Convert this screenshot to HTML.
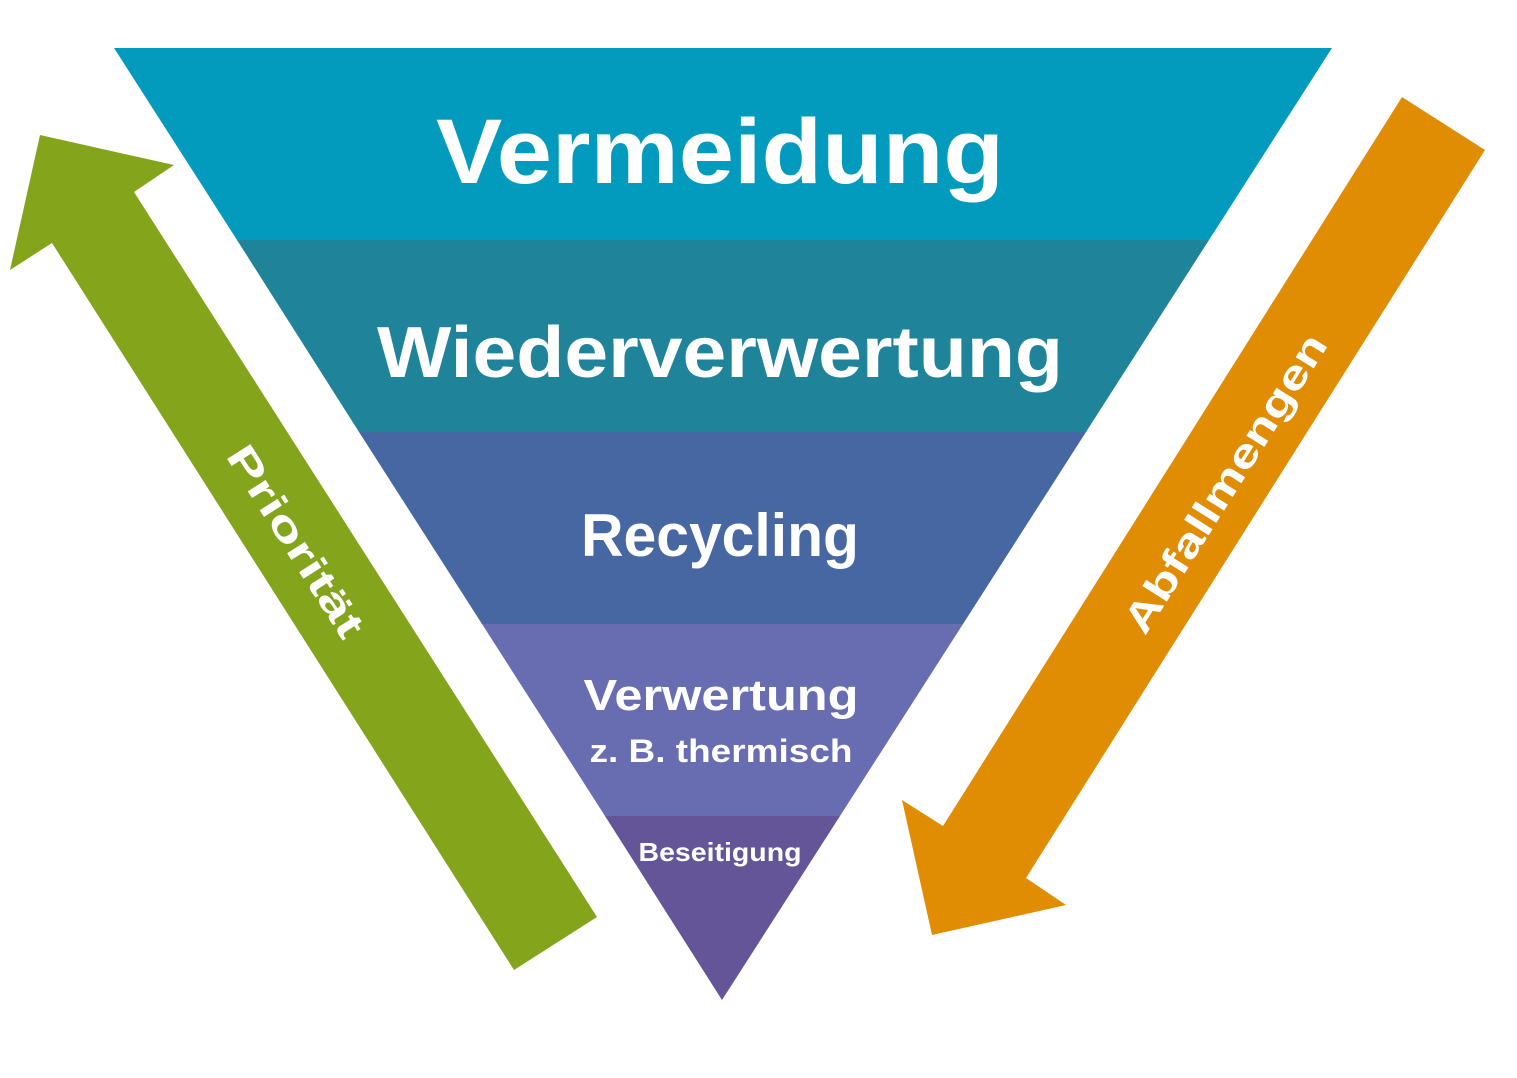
<!DOCTYPE html>
<html><head><meta charset="utf-8"><style>html,body{margin:0;padding:0;background:#fff}svg{display:block}</style></head>
<body>
<svg width="1517" height="1078" viewBox="0 0 1517 1078" xmlns="http://www.w3.org/2000/svg" font-family="Liberation Sans, sans-serif" font-weight="bold" fill="#fff">
<polygon points="114,48 1332,48 1209,240 237,240" fill="#029bbd"/>
<polygon points="237,240 1209,240 1086,432 359,432" fill="#1f8399"/>
<polygon points="359,432 1086,432 963,624 482,624" fill="#4767a3"/>
<polygon points="482,624 963,624 840,816 605,816" fill="#676db0"/>
<polygon points="605,816 840,816 722,1000" fill="#635598"/>
<polygon points="514,970 597,917 134,192 174,165 40,135 10,270 52,243" fill="#84a51b"/>
<polygon points="1402,97 1485,150 1026,878 1066,905 932,935 902,800 943,826" fill="#e08d04"/>
<text x="720" y="183" font-size="92" text-anchor="middle" textLength="568" lengthAdjust="spacingAndGlyphs">Vermeidung</text>
<text x="720" y="377" font-size="72" text-anchor="middle" textLength="686" lengthAdjust="spacingAndGlyphs">Wiederverwertung</text>
<text x="720" y="556" font-size="60" text-anchor="middle" textLength="278" lengthAdjust="spacingAndGlyphs">Recycling</text>
<text x="721" y="710" font-size="44" text-anchor="middle" textLength="275" lengthAdjust="spacingAndGlyphs">Verwertung</text>
<text x="721" y="762" font-size="32" text-anchor="middle" textLength="263" lengthAdjust="spacingAndGlyphs">z. B. thermisch</text>
<text x="720" y="861" font-size="26" text-anchor="middle" textLength="163" lengthAdjust="spacingAndGlyphs">Beseitigung</text>
<text transform="translate(296,541) rotate(57.5)" y="14" font-size="40" text-anchor="middle" textLength="220" lengthAdjust="spacingAndGlyphs">Priorität</text>
<text transform="translate(1225,483) rotate(-57.8)" y="14" font-size="40" text-anchor="middle" textLength="345" lengthAdjust="spacingAndGlyphs">Abfallmengen</text>
</svg>
</body></html>
